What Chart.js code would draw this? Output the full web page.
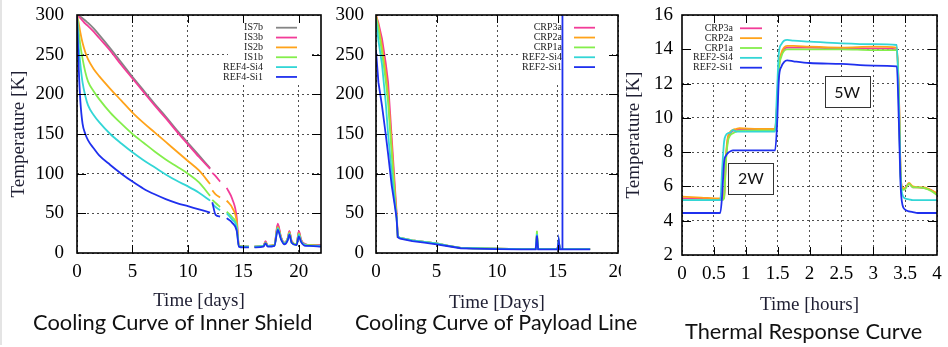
<!DOCTYPE html>
<html>
<head>
<meta charset="utf-8">
<script src="https://cdn.jsdelivr.net/npm/chart.js@4.4.1/dist/chart.umd.min.js"></script>
<style>
html, body { margin: 0; padding: 0; background: #fff; }
body { width: 948px; height: 347px; position: relative; overflow: hidden; }
canvas { position: absolute; top: 0; }
.cap { position: absolute; font-family: Lato, sans-serif; font-size: 21px; line-height: 21px; color: #111; white-space: nowrap; transform-origin: 0 0; z-index: 5; }
.edge { position: absolute; left: 0; top: 0; width: 2px; height: 345px; background: #e4e4e4; z-index: 6; }
</style>
</head>
<body>
<div class="edge"></div>
<canvas id="shield" width="330" height="316" style="left:0px"></canvas>
<canvas id="payload" width="296" height="316" style="left:325px"></canvas>
<canvas id="thermal" width="327" height="316" style="left:621px"></canvas>
<div class="cap" id="cap1">Cooling Curve of Inner Shield</div>
<div class="cap" id="cap2">Cooling Curve of Payload Line</div>
<div class="cap" id="cap3">Thermal Response Curve</div>
<script>
// ---- inner shield, time in days ----
const shieldDays = [0, 0.15, 0.3, 0.5, 0.75, 1, 1.5, 2, 3, 4, 5, 6, 7, 8, 9, 10, 11, 12, 12.1, 12.2, 12.5, 12.9, 13.2, 13.5, 14, 14.4,
    14.6, 15, 15.5, 15.7, 16, 16.8, 17, 17.2, 17.8, 18.1, 18.4, 18.7, 19, 19.15, 19.35, 19.8, 20, 20.2, 20.6, 21, 22]
const is7b = [300, 299, 298, 296, 293, 290, 283, 275, 258, 240, 222, 205, 188, 172, 155, 139, 123, 107, null, null, null, null, null, null, null, null,
    9, 8, 8, null, 8, 9, 14, 9, 10, 35, 19, 13, 18, 27, 15, 11, 27, 16, 11, 10, 10]
const is3b = [300, 298, 296, 293, 289, 286, 279, 271, 255, 237, 220, 203, 186, 170, 153, 137, 121, 106, null, 101, 97, 90, null, 82, 68, 45,
    9, 8, 8, null, 8, 9, 15, 9, 10, 37, 20, 13, 19, 28, 15, 11, 28, 17, 11, 10, 10]
const is2b = [300, 290, 278, 265, 253, 244, 232, 223, 207, 192, 177, 164, 152, 140, 128, 116, 104, 87, null, 79, 74, 70, null, 66, 57, 40,
    9, 8, 8, null, 8, 9, 13, 9, 10, 33, 19, 12, 18, 26, 14, 11, 25, 16, 10, 10, 9]
const is1b = [300, 280, 262, 245, 228, 216, 204, 194, 177, 163, 150, 139, 128, 118, 109, 100, 89, 72, null, 67, 63, 58, null, 52, 45, 34,
    9, 8, 8, null, 8, 9, 13, 9, 10, 32, 18, 12, 18, 25, 14, 11, 24, 15, 10, 10, 9]
const ref4si4 = [300, 262, 238, 215, 198, 186, 174, 165, 150, 138, 127, 117, 108, 99, 91, 84, 76, 66, null, 62, 58, 54, null, 50, 42, 32,
    8, 8, 8, null, 8, 9, 12, 9, 9, 31, 18, 12, 17, 24, 13, 10, 23, 15, 10, 9, 9]
const ref4si1 = [298, 235, 192, 163, 150, 142, 132, 123, 111, 100, 90, 81, 74, 68, 63, 59, 55, 51, null, 64, 48, 46, null, 44, 38, 28,
    8, 7, 7, null, 7, 8, 12, 8, 9, 29, 17, 11, 16, 23, 13, 10, 21, 14, 9, 9, 8]

// ---- payload line, time in days ----
const payloadDays = [0, 0.2, 0.5, 0.8, 1, 1.3, 1.6, 1.7, 1.8, 2, 3, 4, 5, 6, 7, 8, 10, 12, 13.2, 13.3, 13.4, 15, 15.1, 15.2, 15.38, 15.4, 15.42, 16.5, 17.7]
const crp3a = [300, 290, 270, 240, 215, 145, 75, 52, 20, 19, 16, 14, 12, 9, 6.5, 6, 5.5, 5, 5, 22, 5, 5, 14, 5, 5, 5, 5, 5, 5]
const crp2a = [300, 287, 260, 228, 200, 135, 68, 48, 20, 19, 16, 14, 12, 9, 6.5, 6, 5.5, 5, 5, 23, 5, 5, 14, 5, 5, 5, 5, 5, 5]
const crp1a = [298, 283, 252, 218, 190, 125, 62, 46, 20, 19, 16, 14, 12, 9, 6.5, 6, 5.5, 5, 5, 28, 5, 5, 15, 5, 5, 5, 5, 5, 5]
const ref2si4 = [295, 268, 237, 190, 150, 100, 57, 45, 21, 19, 16, 14, 12, 9, 6.5, 6, 5.5, 5, 5, 24, 5, 5, 15, 5, 5, 5, 5, 5, 5]
const ref2si1 = [255, 215, 185, 150, 125, 85, 55, 44, 20, 18, 15, 13, 11, 8.5, 6, 5.5, 5, 4.5, 4.5, 22, 4.5, 4.5, 16, 4.5, 4.5, 400, 4.5, 4.5, 4.5]

// ---- thermal response, time in hours ----
const hours = [0, 0.3, 0.6, 0.63, 0.66, 0.69, 0.72, 0.76, 0.8, 0.85, 0.9, 1.2, 1.46, 1.49, 1.52, 1.56, 1.6, 1.65, 1.75,
    2, 2.5, 3, 3.37, 3.4, 3.43, 3.46, 3.5, 3.56, 3.62, 3.7, 3.8, 3.9, 4]
const hCrp3a = [5.3, 5.3, 5.25, 5.25, 5.4, 7.6, 8.8, 9.1, 9.25, 9.3, 9.3, 9.3, 9.3, 10.7, 12.9, 13.7, 14.0, 14.1, 14.1,
    14.1, 14.05, 14.05, 14.0, 11.7, 6.7, 5.85, 5.9, 6.15, 5.95, 5.95, 5.9, 5.8, 5.55]
const hCrp2a = [5.4, 5.35, 5.3, 5.3, 5.5, 7.8, 8.9, 9.2, 9.3, 9.35, 9.4, 9.35, 9.35, 10.8, 13.0, 13.8, 14.1, 14.2, 14.2,
    14.15, 14.1, 14.15, 14.1, 11.8, 6.8, 5.9, 5.9, 6.2, 6.0, 5.95, 5.95, 5.8, 5.6]
const hCrp1a = [5.2, 5.2, 5.2, 5.2, 5.3, 7.5, 8.6, 9.0, 9.1, 9.2, 9.25, 9.25, 9.25, 10.5, 12.8, 13.6, 13.9, 14.0, 14.0,
    14.0, 14.0, 13.95, 13.95, 11.5, 6.6, 5.8, 5.85, 6.15, 5.95, 5.95, 5.9, 5.75, 5.5]
const hRef2si4 = [5.2, 5.2, 5.2, 7.0, 8.6, 9.0, 9.1, 9.15, 9.3, 9.2, 9.2, 9.2, 9.2, 11.5, 13.8, 14.3, 14.5, 14.55, 14.5,
    14.45, 14.35, 14.3, 14.25, 11.0, 6.5, 5.5, 5.3, 5.25, 5.2, 5.2, 5.2, 5.2, 5.2]
const hRef2si1 = [4.45, 4.45, 4.45, 5.5, 7.4, 7.8, 7.95, 8.05, 8.1, 8.1, 8.1, 8.1, 8.1, 9.5, 12.3, 13.0, 13.25, 13.35, 13.3,
    13.2, 13.15, 13.05, 13.0, 10.0, 6.0, 4.9, 4.65, 4.55, 4.5, 4.45, 4.45, 4.45, 4.45]

const noteText = ['2W', '5W']
const noteHours = [1.08, 2.59]
const noteTemps = [6.49, 11.54]

const GRAY = '#858585', PINK = '#f23c98', ORANGE = '#ffa31a', GREEN = '#84ee4c', CYAN = '#33d6d6', BLUE = '#1f30ee'
const SERIF = '"Liberation Serif", "Times New Roman", serif'
Chart.defaults.font.family = SERIF
const serif = size => ({ family: SERIF, size: size })

function series(label, xs, ys, color, order) {
    return {
        label: label,
        data: xs.map((x, i) => ({ x: x, y: ys[i] })),
        borderColor: color,
        backgroundColor: color,
        borderWidth: 1.8,
        pointRadius: 0,
        order: order,
        spanGaps: false
    }
}

// gnuplot style frame: key box, border, mirrored ticks, boxed notes
const frame = {
    id: 'frame',
    beforeDraw(chart, args, o) {
        if (!o.fill) return
        chart.ctx.save()
        chart.ctx.fillStyle = o.fill
        chart.ctx.fillRect(0, 0, chart.width, chart.height)
        chart.ctx.restore()
    },
    beforeDatasetsDraw(chart, args, o) {
        const ctx = chart.ctx, a = chart.chartArea
        ctx.save()
        ctx.fillStyle = '#fff'
        ctx.fillRect(a.left + o.box[0], a.top + 1, o.box[1], o.box[2])
        ctx.font = '10px ' + SERIF
        ctx.textAlign = 'right'
        ctx.textBaseline = 'middle'
        chart.data.datasets.forEach((ds, i) => {
            const y = a.top + o.keyTop + i * 9.85
            ctx.fillStyle = '#222'
            ctx.fillText(ds.label, a.left + o.keyText, y)
            ctx.strokeStyle = ds.borderColor
            ctx.lineWidth = 1.8
            ctx.beginPath()
            ctx.moveTo(a.left + o.keyLine[0], y)
            ctx.lineTo(a.left + o.keyLine[1], y)
            ctx.stroke()
        })
        ctx.restore()
    },
    afterDatasetsDraw(chart, args, o) {
        const ctx = chart.ctx, a = chart.chartArea
        const xs = chart.scales.x, ys = chart.scales.y
        ctx.save()
        ctx.strokeStyle = '#000'
        ctx.lineWidth = 1
        ctx.beginPath()
        xs.ticks.forEach(t => {
            const px = Math.round(xs.getPixelForValue(t.value)) + 0.5
            if (px < a.left + 2 || px > a.right - 2) return
            ctx.moveTo(px, a.bottom); ctx.lineTo(px, a.bottom - 8)
            ctx.moveTo(px, a.top); ctx.lineTo(px, a.top + 8)
        })
        ys.ticks.forEach(t => {
            const py = Math.round(ys.getPixelForValue(t.value)) + 0.5
            if (py < a.top + 2 || py > a.bottom - 2) return
            ctx.moveTo(a.left, py); ctx.lineTo(a.left + 9, py)
            ctx.moveTo(a.right, py); ctx.lineTo(a.right - 9, py)
        })
        ctx.stroke()
        ctx.lineWidth = 1.6
        ctx.strokeRect(a.left, a.top, a.right - a.left, a.bottom - a.top)

        if (o.notes) {
            ctx.font = '16px Lato, sans-serif'
            ctx.textAlign = 'center'
            ctx.textBaseline = 'middle'
            noteText.forEach((txt, i) => {
                const cx = xs.getPixelForValue(noteHours[i]), cy = ys.getPixelForValue(noteTemps[i])
                ctx.fillStyle = '#fff'
                ctx.fillRect(cx - 22.5, cy - 15.5, 45, 31)
                ctx.strokeStyle = '#333'
                ctx.lineWidth = 1
                ctx.strokeRect(Math.round(cx - 22.5) + 0.5, Math.round(cy - 15.5) + 0.5, 45, 31)
                ctx.fillStyle = '#111'
                ctx.fillText(txt, cx, cy + 1)
            })
        }
        ctx.restore()
    }
}

function options(c) {
    return {
        responsive: false,
        animation: false,
        events: [],
        layout: { padding: { top: 15, right: c.padRight, left: 0, bottom: 0 } },
        plugins: { legend: { display: false }, tooltip: { enabled: false }, frame: c.frame },
        scales: {
            x: {
                type: 'linear', min: c.xMin, max: c.xMax,
                afterFit: s => { s.height = c.xHeight; s.paddingLeft = 0; s.paddingRight = 0 },
                ticks: {
                    stepSize: c.xStep, includeBounds: false, autoSkip: false, maxRotation: 0, padding: 8,
                    color: '#000', font: serif(19), callback: v => String(v)
                },
                grid: { color: '#222', lineWidth: 0.8, drawTicks: false },
                border: { display: false, dash: [2, 3] },
                title: { display: true, text: c.xTitle, color: '#1f1f33', font: serif(19), padding: c.xTitlePad }
            },
            y: {
                min: c.yMin, max: c.yMax,
                afterFit: s => { s.width = c.yWidth; s.paddingTop = 0; s.paddingBottom = 0 },
                ticks: { stepSize: c.yStep, autoSkip: false, padding: c.yTickPad, color: '#000', font: serif(19), callback: v => String(v) },
                grid: { color: '#222', lineWidth: 0.8, drawTicks: false },
                border: { display: false, dash: [2, 3] },
                title: { display: !!c.yTitle, text: c.yTitle, color: '#1f1f33', font: serif(19), padding: c.yTitlePad }
            }
        }
    }
}

new Chart(document.getElementById('shield'), {
    type: 'line',
    data: {
        datasets: [
            series('IS7b', shieldDays, is7b, GRAY, 5),
            series('IS3b', shieldDays, is3b, PINK, 4),
            series('IS2b', shieldDays, is2b, ORANGE, 3),
            series('IS1b', shieldDays, is1b, GREEN, 2),
            series('REF4-Si4', shieldDays, ref4si4, CYAN, 1),
            series('REF4-Si1', shieldDays, ref4si1, BLUE, 0)
        ].map(d => Object.assign(d, { cubicInterpolationMode: 'monotone' }))
    },
    options: options({
        padRight: 9, xMin: 0, xMax: 22, xStep: 5, xHeight: 63, xTitle: 'Time [days]', xTitlePad: 4,
        yMin: 0, yMax: 300, yStep: 50, yWidth: 77, yTickPad: 13, yTitle: 'Temperature [K]', yTitlePad: 8,
        frame: { box: [151, 82, 67], keyText: 186, keyLine: [199, 220], keyTop: 12.7 }
    }),
    plugins: [frame]
})

new Chart(document.getElementById('payload'), {
    type: 'line',
    data: {
        datasets: [
            series('CRP3a', payloadDays, crp3a, PINK, 4),
            series('CRP2a', payloadDays, crp2a, ORANGE, 3),
            series('CRP1a', payloadDays, crp1a, GREEN, 2),
            series('REF2-Si4', payloadDays, ref2si4, CYAN, 1),
            series('REF2-Si1', payloadDays, ref2si1, BLUE, 0)
        ]
    },
    options: options({
        padRight: 3, xMin: 0, xMax: 20, xStep: 5, xHeight: 63, xTitle: 'Time [Days]', xTitlePad: 2,
        yMin: 0, yMax: 300, yStep: 50, yWidth: 51, yTickPad: 12, yTitle: '',
        frame: { box: [144, 92, 67], keyText: 186, keyLine: [198, 219], keyTop: 12.7 }
    }),
    plugins: [frame]
})

new Chart(document.getElementById('thermal'), {
    type: 'line',
    data: {
        datasets: [
            series('CRP3a', hours, hCrp3a, PINK, 4),
            series('CRP2a', hours, hCrp2a, ORANGE, 3),
            series('CRP1a', hours, hCrp1a, GREEN, 2),
            series('REF2-Si4', hours, hRef2si4, CYAN, 1),
            series('REF2-Si1', hours, hRef2si1, BLUE, 0)
        ].map(d => Object.assign(d, { cubicInterpolationMode: 'monotone' }))
    },
    options: options({
        padRight: 11, xMin: 0, xMax: 4, xStep: 0.5, xHeight: 61, xTitle: 'Time [hours]', xTitlePad: 0,
        yMin: 2, yMax: 16, yStep: 2, yWidth: 61, yTickPad: 9, yTitle: 'Temperature [K]', yTitlePad: 2,
        frame: { fill: '#fff', box: [0, 88, 67], keyText: 51, keyLine: [58, 80], keyTop: 13.3, notes: true }
    }),
    plugins: [frame]
})

// captions under each panel, stretched to the widths in the picture
const captions = [['cap1', 33, 312, 330], ['cap2', 355, 637, 330], ['cap3', 685, 922, 339]]
captions.forEach(([id, x0, x1, base]) => {
    const el = document.getElementById(id)
    el.style.left = x0 + 'px'
    el.style.top = (base - 18.6) + 'px'
    el.style.transform = 'scaleX(' + ((x1 - x0) / el.offsetWidth) + ')'
})
</script>
</body>
</html>
